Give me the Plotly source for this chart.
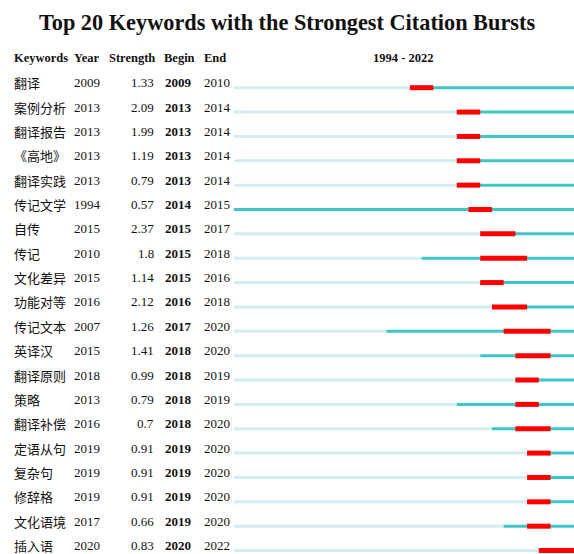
import plotly.graph_objects as go

keywords = ["翻译", "案例分析", "翻译报告", "《高地》", "翻译实践", "传记文学", "自传", "传记", "文化差异", "功能对等",
            "传记文本", "英译汉", "翻译原则", "策略", "翻译补偿", "定语从句", "复杂句", "修辞格", "文化语境", "插入语"]
years = [2009, 2013, 2013, 2013, 2013, 1994, 2015, 2010, 2015, 2016, 2007, 2015, 2018, 2013, 2016, 2019, 2019, 2019, 2017, 2020]
strengths = ["1.33", "2.09", "1.99", "1.19", "0.79", "0.57", "2.37", "1.8", "1.14", "2.12",
             "1.26", "1.41", "0.99", "0.79", "0.7", "0.91", "0.91", "0.91", "0.66", "0.83"]
begins = [2009, 2013, 2013, 2013, 2013, 2014, 2015, 2015, 2015, 2016, 2017, 2018, 2018, 2018, 2018, 2019, 2019, 2019, 2019, 2020]
ends = [2010, 2014, 2014, 2014, 2014, 2015, 2017, 2018, 2016, 2018, 2020, 2020, 2019, 2019, 2020, 2020, 2020, 2020, 2020, 2022]
start_year, end_year = 1994, 2022

W, H = 574, 554
LIGHT = "#d3eef0"
TEAL = "#3fc6c6"
RED = "#ff0000"
SERIF = "Liberation Serif, Times New Roman, serif"
CJK = "Noto Sans CJK SC"

def px(x):
    return x / W

def py(y):
    return 1 - y / H

fig = go.Figure()
for i, kw in enumerate(keywords):
    y = i
    fig.add_trace(go.Scatter(x=[start_year, years[i]], y=[y, y], mode="lines",
                             line=dict(color=LIGHT, width=3), hoverinfo="skip", showlegend=False))
    fig.add_trace(go.Scatter(x=[years[i], end_year + 1], y=[y, y], mode="lines",
                             line=dict(color=TEAL, width=3), hoverinfo="skip", showlegend=False))
    fig.add_trace(go.Scatter(x=[begins[i], ends[i] + 1], y=[y, y], mode="lines",
                             line=dict(color=RED, width=5), hoverinfo="skip", showlegend=False))

ann = []
def t(x, y, text, anchor="left", bold=False, font=SERIF, size=13):
    ann.append(dict(x=px(x), y=y, xref="paper", yref="y", text=("<b>%s</b>" % text) if bold else text,
                    showarrow=False, xanchor=anchor, yanchor="middle", yshift=5,
                    font=dict(family=font, size=size, color="#111111")))

for i in range(len(keywords)):
    t(12, i, keywords[i], font=CJK, size=13)
    t(72, i, str(years[i]))
    t(156, i, strengths[i], anchor="right")
    t(163, i, str(begins[i]), bold=True)
    t(202, i, str(ends[i]))

hy = py(58)
for x, txt, anc in [(12, "Keywords", "left"), (72, "Year", "left"), (107, "Strength", "left"),
                    (162, "Begin", "left"), (202, "End", "left"),
                    (403, "%d - %d" % (start_year, end_year), "center")]:
    ann.append(dict(x=px(x), y=hy, xref="paper", yref="paper", text="<b>%s</b>" % txt, showarrow=False,
                    xanchor=anc, yanchor="middle", font=dict(family=SERIF, size=12.5, color="#111")))

row_px = 24.36
first_px = 87.7
ymin = -first_px / row_px
ymax = (H - first_px) / row_px

fig.update_layout(
    width=W, height=H,
    margin=dict(l=0, r=0, t=0, b=0),
    paper_bgcolor="white", plot_bgcolor="white",
    title=dict(text="<b>Top 20 Keywords with the Strongest Citation Bursts</b>", x=px(287), xanchor="center",
               y=py(22), yanchor="middle", font=dict(family=SERIF, size=22.3, color="#111")),
    xaxis=dict(domain=[px(234), 1], range=[start_year, end_year + 1], visible=False, fixedrange=True),
    yaxis=dict(domain=[0, 1], range=[ymax, ymin], visible=False, fixedrange=True),
    annotations=ann,
)

fig.write_html("out.html", config={"displayModeBar": False},
               post_script="document.body.style.margin='0';document.body.style.overflow='hidden';")
